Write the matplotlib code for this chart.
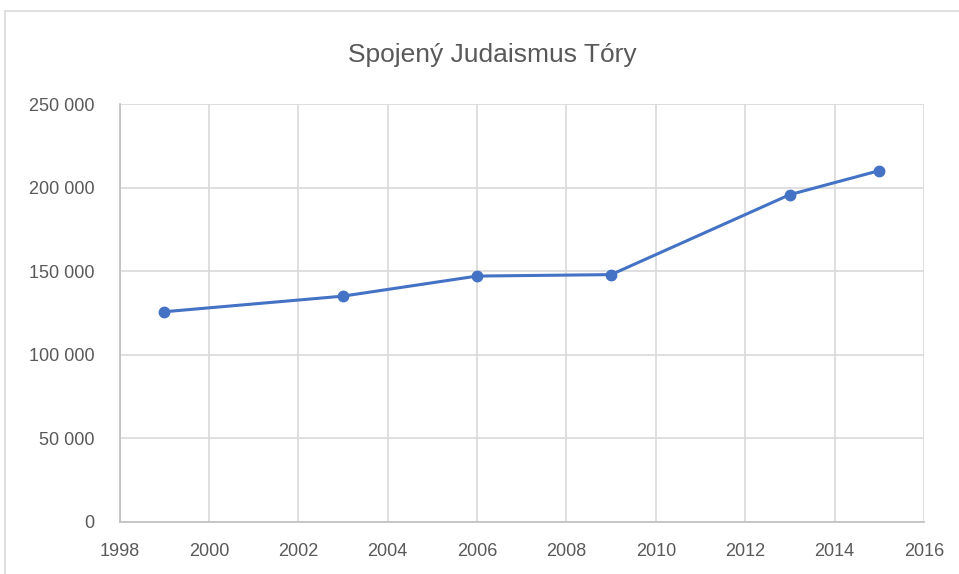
import matplotlib.pyplot as plt
from matplotlib.patches import Rectangle
from matplotlib.ticker import FuncFormatter, MultipleLocator

years = [1999, 2003, 2006, 2009, 2013, 2015]
votes = [125741, 135087, 147091, 147954, 195811, 210143]
title = 'Spojený Judaismus Tóry'

plt.rcParams['font.family'] = ['Liberation Sans', 'DejaVu Sans']

fig = plt.figure(figsize=(9.59, 5.74), dpi=100)
ax = fig.add_axes([119.5 / 959, 1 - 522 / 574, (924 - 119.5) / 959, (522 - 104) / 574])

# chart frame like a spreadsheet chart object
fig.patches.append(Rectangle((5 / 959, -0.1), 1.2, 1 - 11 / 574 + 0.1,
                             transform=fig.transFigure, fill=False,
                             edgecolor='#d9d9d9', linewidth=1.2))

ax.plot(years, votes, color='#4472C4', linewidth=2.2, marker='o',
        markersize=7.5, zorder=3, clip_on=False)

ax.set_xlim(1998, 2016)
ax.set_ylim(0, 250000)
ax.xaxis.set_major_locator(MultipleLocator(2))
ax.yaxis.set_major_locator(MultipleLocator(50000))
ax.yaxis.set_major_formatter(FuncFormatter(lambda v, p: f'{int(v):,}'.replace(',', ' ')))

ax.grid(True, color='#d9d9d9', linewidth=1.2)
ax.set_axisbelow(True)
for side in ['top', 'right']:
    ax.spines[side].set_visible(False)
for side in ['left', 'bottom']:
    ax.spines[side].set_color('#bfbfbf')
    ax.spines[side].set_linewidth(1.2)
ax.tick_params(length=0, labelsize=13, labelcolor='#595959')
ax.tick_params(axis='x', pad=15)
ax.tick_params(axis='y', pad=18)

fig.text(492 / 959, 1 - 55 / 574, title, ha='center', va='center',
         fontsize=19, color='#595959')

fig.savefig('out.png', dpi=100)
